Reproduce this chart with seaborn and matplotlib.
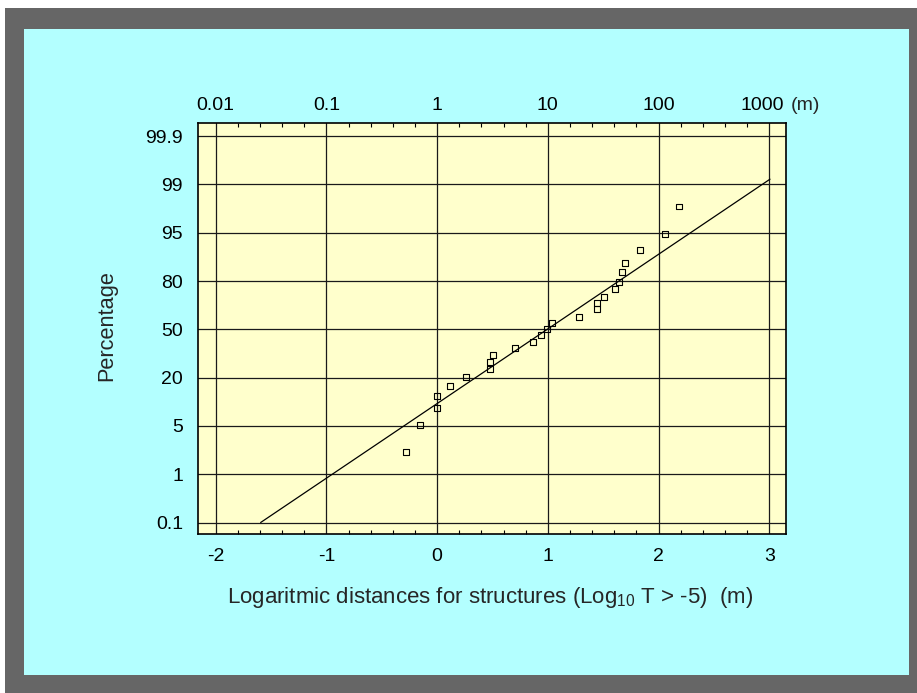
import numpy as np
import matplotlib
matplotlib.use("Agg")
import matplotlib.pyplot as plt
from matplotlib.patches import Rectangle
from matplotlib.ticker import FixedLocator, FixedFormatter, NullLocator
import matplotlib.transforms as mtransforms
from statistics import NormalDist
import seaborn as sns

# ---- data -------------------------------------------------------------
# log10 of the spacing between structures (m) and cumulative percentage
log_distance = [-0.285, -0.155, 0.0, 0.0, 0.113, 0.257, 0.477, 0.474, 0.504,
                0.703, 0.865, 0.938, 0.989, 1.034, 1.278, 1.447, 1.447, 1.510,
                1.610, 1.646, 1.673, 1.700, 1.829, 2.058, 2.188]
cum_percent = [2.2, 5.2, 8.9, 12.7, 16.3, 20.5, 24.5, 28.6, 32.9,
               37.0, 41.4, 46.0, 50.2, 54.2, 58.7, 63.6, 67.5, 71.5,
               75.7, 79.7, 83.8, 87.4, 91.3, 94.8, 97.8]

# fitted log-normal line (end points)
fit_log_distance = [-1.594, 3.006]
fit_percent = [0.1, 99.2]

# axis ticks
prob_ticks = [0.1, 1, 5, 20, 50, 80, 95, 99, 99.9]
prob_labels = ["0.1", "1", "5", "20", "50", "80", "95", "99", "99.9"]
log_ticks = [-2, -1, 0, 1, 2, 3]
log_labels = ["-2", "-1", "0", "1", "2", "3"]
metre_labels = ["0.01", "0.1", "1", "10", "100", "1000"]

# ---- probability scale: tick levels evenly spaced, probit in between -----
_nd = NormalDist()
_probit = np.vectorize(_nd.inv_cdf, otypes=[float])
_cdf = np.vectorize(_nd.cdf, otypes=[float])
z_ticks = _probit(np.array(prob_ticks) / 100.0)
slot = np.arange(len(prob_ticks), dtype=float)


def _interp_ext(x, xp, fp):
    x = np.asarray(x, dtype=float)
    shape = x.shape
    x = np.atleast_1d(x).ravel()
    y = np.interp(x, xp, fp)
    lo = x < xp[0]
    hi = x > xp[-1]
    y[lo] = fp[0] + (x[lo] - xp[0]) * (fp[1] - fp[0]) / (xp[1] - xp[0])
    y[hi] = fp[-1] + (x[hi] - xp[-1]) * (fp[-1] - fp[-2]) / (xp[-1] - xp[-2])
    return y.reshape(shape)


def prob_forward(p):
    p = np.clip(np.asarray(p, dtype=float) / 100.0, 1e-12, 1 - 1e-12)
    return _interp_ext(_probit(p), z_ticks, slot)


def prob_inverse(s):
    return 100.0 * _cdf(_interp_ext(s, slot, z_ticks))


# ---- figure -----------------------------------------------------------
sns.set_style("white")
plt.rcParams["font.family"] = ["Liberation Sans", "DejaVu Sans"]
plt.rcParams["mathtext.fontset"] = "custom"
plt.rcParams["mathtext.rm"] = "Liberation Sans"
plt.rcParams["mathtext.it"] = "Liberation Sans"

W, H = 917, 693
fig = plt.figure(figsize=(W / 100, H / 100), dpi=100, facecolor="white")

# framed background
fig.patches.append(Rectangle((5 / W, 0), 912 / W, 685 / H, transform=fig.transFigure,
                             facecolor="#666666", edgecolor="none", zorder=-10))
fig.patches.append(Rectangle((24 / W, 18 / H), 885 / W, 646 / H, transform=fig.transFigure,
                             facecolor="#b3ffff", edgecolor="none", zorder=-9))

ax = fig.add_axes([198.3 / W, (H - 534.3) / H, 587.2 / W, 411 / H])
ax.set_facecolor("#ffffcc")
ax.set_yscale("function", functions=(prob_forward, prob_inverse))

sns.lineplot(x=fit_log_distance, y=fit_percent, ax=ax, color="black",
             linewidth=0.9, estimator=None, sort=False, zorder=3)
sns.scatterplot(x=log_distance, y=cum_percent, ax=ax, marker="s", s=18,
                facecolor="none", edgecolor="black", linewidth=0.8, zorder=4)

ax.set_xlim(-2.157, 3.146)
ax.set_ylim(prob_inverse(-0.244), prob_inverse(8.265))

# y axis
ax.yaxis.set_major_locator(FixedLocator(prob_ticks))
ax.yaxis.set_major_formatter(FixedFormatter(prob_labels))
ax.yaxis.set_minor_locator(NullLocator())

# x axis (log10 values at the bottom)
ax.xaxis.set_major_locator(FixedLocator(log_ticks))
ax.xaxis.set_major_formatter(FixedFormatter(log_labels))
ax.xaxis.set_minor_locator(FixedLocator(
    [v for v in np.round(np.arange(-2.0, 3.01, 0.2), 1) if v not in log_ticks]))

ax.grid(True, which="major", color="#1a1a1a", linewidth=0.9)
ax.tick_params(axis="both", which="major", length=0, labelsize=14, colors="black")
ax.tick_params(axis="x", which="major", pad=10)
ax.tick_params(axis="y", which="major", pad=11)
ax.tick_params(axis="x", which="minor", direction="in", length=3, width=0.8,
               top=True, bottom=True, color="black")
for sp in ax.spines.values():
    sp.set_visible(True)
    sp.set_color("black")
    sp.set_linewidth(1.2)

# metre scale on top
top = ax.secondary_xaxis("top")
top.xaxis.set_major_locator(FixedLocator(log_ticks))
top.xaxis.set_major_formatter(FixedFormatter(metre_labels))
top.xaxis.set_minor_locator(NullLocator())
top.tick_params(axis="x", length=0, labelsize=14, pad=7, colors="black")
top.spines["top"].set_visible(False)

# the last metre label sits a little left so that its unit fits after it
last_tick = top.xaxis.get_major_ticks()[-1]
for lbl in (last_tick.label1, last_tick.label2):
    lbl.set_transform(lbl.get_transform()
                      + mtransforms.ScaledTranslation(-7 / 100, 0, fig.dpi_scale_trans))

blend = mtransforms.blended_transform_factory(ax.transData, ax.transAxes)
ax.text(3.19, 1.0, "(m)", fontsize=14, ha="left", va="bottom", clip_on=False,
        transform=blend + mtransforms.ScaledTranslation(0, 7 / 72, fig.dpi_scale_trans))

ax.set_xlabel("")
ax.set_ylabel("")
fig.text(490 / W, 1 - 598 / H,
         r"Logaritmic distances for structures (Log$_{\mathrm{10}}$ T > -5)  (m)",
         ha="center", va="center", fontsize=16)
fig.text(106.7 / W, 1 - 325.8 / H, "Percentage", rotation=90,
         ha="center", va="center", fontsize=15.7)

fig.savefig("out.png", dpi=100, facecolor=fig.get_facecolor())
